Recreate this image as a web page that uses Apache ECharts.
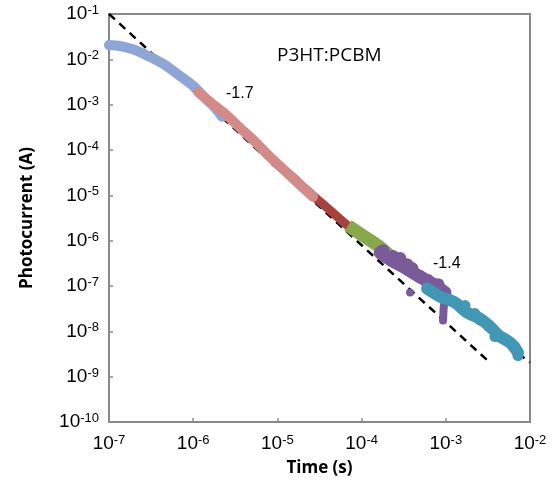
<!DOCTYPE html>
<html><head><meta charset="utf-8">
<script src="https://cdn.jsdelivr.net/npm/echarts@6/dist/echarts.min.js"></script>
<style>html,body{margin:0;padding:0;background:#fff}#c{width:559px;height:483px}</style>
</head><body><div id="c"></div>
<script>
// Time (s) and photocurrent (A) values
const blueT  = [1.0e-7, 1.35e-7, 2.04e-7, 3.07e-7, 4.62e-7, 6.97e-7, 1.0e-6, 1.38e-6, 1.82e-6, 2.2e-6];
const blueI  = [2.07e-2, 1.97e-2, 1.61e-2, 1.13e-2, 7.5e-3, 4.3e-3, 2.6e-3, 1.41e-3, 8.5e-4, 5.4e-4];
const pinkT  = [1.14e-6, 1.58e-6, 2.39e-6, 3.6e-6, 5.42e-6, 8.17e-6, 1.23e-5, 1.85e-5, 2.65e-5];
const pinkI  = [1.91e-3, 1.15e-3, 6.27e-4, 3.08e-4, 1.52e-4, 7.08e-5, 3.48e-5, 1.71e-5, 9.3e-6];
const redT   = [9.36e-6, 1.41e-5, 2.13e-5, 3.21e-5, 4.83e-5, 7.28e-5];
const redI   = [5.22e-5, 2.84e-5, 1.4e-5, 7.23e-6, 3.74e-6, 1.93e-6];
const greenT = [6.89e-5, 1.04e-4, 1.57e-4, 2.23e-4];
const greenI = [2.14e-6, 1.29e-6, 7.76e-7, 4.45e-7];
const purpleT = [1.66e-4, 2.3e-4, 3.27e-4, 4.68e-4, 6.86e-4, 9.78e-4];
const purpleI = [5.44e-7, 3.62e-7, 2.54e-7, 1.69e-7, 1.13e-7, 7.16e-8];
const purpleBlobT = [1.79e-4, 2.36e-4, 2.86e-4, 3.46e-4, 3.97e-4, 4.94e-4, 6.15e-4, 8.08e-4];
const purpleBlobI = [6.03e-7, 4.45e-7, 4.02e-7, 2.96e-7, 2.42e-7, 1.61e-7, 1.32e-7, 1.07e-7];
const purpleDotT = [3.76e-4];
const purpleDotI = [7.16e-8];
const purpleDipT = [1.0e-3, 9.5e-4, 9.27e-4];
const purpleDipI = [6.8e-8, 3.7e-8, 1.73e-8];
const cyanT  = [5.98e-4, 8.53e-4, 1.29e-3, 1.79e-3, 2.55e-3, 3.35e-3, 4.4e-3, 5.79e-3, 7.2e-3];
const cyanI  = [8.77e-8, 5.85e-8, 4.31e-8, 2.6e-8, 1.91e-8, 1.28e-8, 7.68e-9, 5.66e-9, 3.41e-9];
const cyanBlobT = [1.69e-3, 2.22e-3, 3.84e-3, 5.05e-3, 6.64e-3, 7.2e-3];
const cyanBlobI = [3.7e-8, 2.47e-8, 7.68e-9, 6.94e-9, 4.62e-9, 2.93e-9];
const fit1T = [1e-7, 3.35e-3];
const fit1I = [1e-1, 2.03e-9];
const fit2T = [1e-4, 1e-2];
const fit2I = [1.3e-6, 2.06e-9];
const xTicks = [-7, -6, -5, -4, -3, -2];
const yTicks = [-10, -9, -8, -7, -6, -5, -4, -3, -2, -1];

const zip = (a, b) => a.map((v, i) => [v, b[i]]);
const axisColor = '#898989';
const rich = {
  b: {fontSize: 19, fontFamily: 'Liberation Sans', color: '#000', lineHeight: 20},
  s: {fontSize: 13, fontFamily: 'Liberation Sans', color: '#000', lineHeight: 13, verticalAlign: 'top'}
};
const fmt = v => '{b|10}{s|' + Math.round(Math.log10(v)) + '}';

function band(name, t, i, color, width, cap, z) {
  return {
    name, type: 'line', data: zip(t, i), symbol: 'none', smooth: 0.3,
    lineStyle: {color, width, cap: cap || 'round', join: 'round', opacity: 1}, silent: true, z: z || 3
  };
}
function blobs(name, t, i, color, size, z) {
  return {name, type: 'scatter', data: zip(t, i), symbolSize: size, silent: true, z: z || 3,
    itemStyle: {color, opacity: 1}};
}

const C = {blue: '#8EA6D6', red: '#A8423F', pink: '#D38B89', green: '#87A94B', purple: '#7A5B99', cyan: '#4197B4'};

const chart = echarts.init(document.getElementById('c'));
chart.setOption({
  animation: false,
  grid: {left: 109, right: 29, top: 14, bottom: 61, show: true, borderColor: axisColor, borderWidth: 2},
  xAxis: {
    type: 'log', logBase: 10, min: Math.pow(10, xTicks[0]), max: Math.pow(10, xTicks[xTicks.length - 1]),
    splitNumber: xTicks.length - 1,
    name: 'Time (s)', nameLocation: 'middle', nameGap: 38,
    nameTextStyle: {fontFamily: 'Open Sans', fontWeight: 'bold', fontSize: 17, color: '#000'},
    axisLine: {lineStyle: {color: axisColor, width: 2}},
    axisTick: {inside: true, length: 4, lineStyle: {color: axisColor, width: 1.5}},
    axisLabel: {formatter: fmt, rich, margin: 12},
    splitLine: {show: false}
  },
  yAxis: {
    type: 'log', logBase: 10, min: Math.pow(10, yTicks[0]), max: Math.pow(10, yTicks[yTicks.length - 1]),
    splitNumber: yTicks.length - 1,
    name: 'Photocurrent (A)', nameLocation: 'middle', nameGap: 73,
    nameTextStyle: {fontFamily: 'Open Sans', fontWeight: 'bold', fontSize: 17, color: '#000'},
    axisLine: {lineStyle: {color: axisColor, width: 2}},
    axisTick: {inside: true, length: 4, lineStyle: {color: axisColor, width: 1.5}},
    axisLabel: {formatter: fmt, rich, margin: 10},
    splitLine: {show: false}
  },
  series: [
    {type: 'line', data: zip(fit1T, fit1I), symbol: 'none', silent: true, z: 2,
     lineStyle: {color: '#000', width: 2.5, type: [8, 6]}},
    {type: 'line', data: zip(fit2T, fit2I), symbol: 'none', silent: true, z: 2,
     lineStyle: {color: '#000', width: 2.5, type: [8, 6]}},
    band('blue', blueT, blueI, C.blue, 10, null, 3),
    band('red', redT, redI, C.red, 9, null, 4),
    band('pink', pinkT, pinkI, C.pink, 10, null, 5),
    band('green', greenT, greenI, C.green, 13, 'butt', 6),
    band('purple', purpleT, purpleI, C.purple, 13, null, 7),
    blobs('purpleBlob', purpleBlobT, purpleBlobI, C.purple, 13, 7),
    blobs('purpleDot', purpleDotT, purpleDotI, C.purple, 8, 7),
    band('purpleDip', purpleDipT, purpleDipI, C.purple, 8, null, 7),
    band('cyan', cyanT, cyanI, C.cyan, 12, null, 8),
    blobs('cyanBlob', cyanBlobT, cyanBlobI, C.cyan, 11, 8)
  ],
  graphic: [
    {type: 'text', left: 277, top: 46, style: {text: 'P3HT:PCBM', font: '19px "Open Sans"', fill: '#000'}},
    {type: 'text', left: 226, top: 86, style: {text: '-1.7', font: '16px "Liberation Sans"', fill: '#000'}},
    {type: 'text', left: 433, top: 256, style: {text: '-1.4', font: '16px "Liberation Sans"', fill: '#000'}}
  ]
});
</script></body></html>
